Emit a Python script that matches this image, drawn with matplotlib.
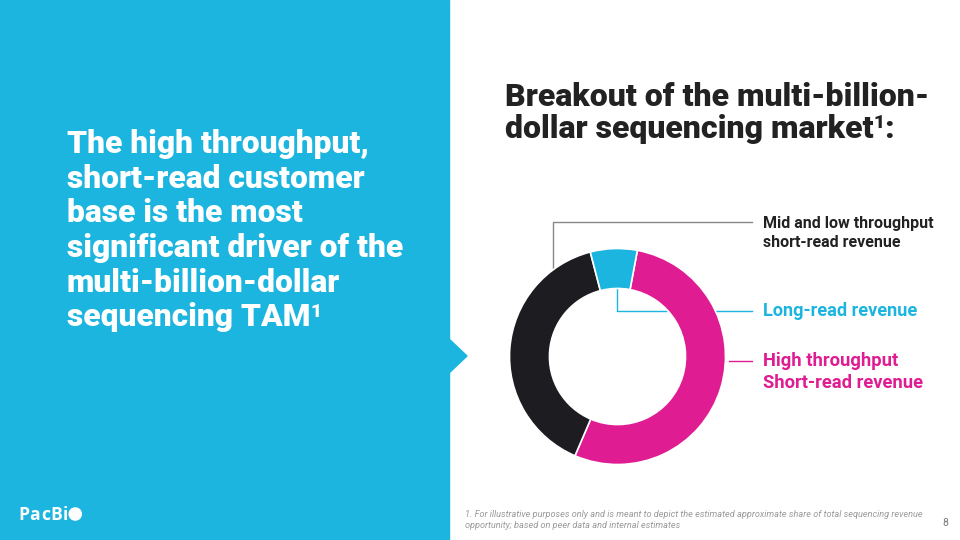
import matplotlib
matplotlib.use("Agg")
import matplotlib.pyplot as plt
from matplotlib.patches import Rectangle, Polygon, Circle

# ---- data ----
segments = ["High throughput\nShort-read revenue", "Mid and low throughput\nshort-read revenue", "Long-read revenue"]
shares = [53.5, 39.5, 7.0]
seg_colors = ["#E01C93", "#1C1C21", "#1BB5DF"]

title_lines = ["Breakout of the multi-billion-", "dollar sequencing market"]
title_sup = "1"
title_tail = ":"
left_lines = ["The high throughput,", "short-read customer", "base is the most",
              "significant driver of the", "multi-billion-dollar", "sequencing TAM"]
left_sup = "1"
footnote_lines = ["1. For illustrative purposes only and is meant to depict the estimated approximate share of total sequencing revenue",
                  "opportunity; based on peer data and internal estimates"]
logo_text = "PacBi"

CYAN = "#1BB5DF"
W, H = 960, 540
fig = plt.figure(figsize=(9.6, 5.4), dpi=100)
ax = fig.add_axes([0, 0, 1, 1])
ax.set_xlim(0, W)
ax.set_ylim(H, 0)
ax.axis("off")
renderer = fig.canvas.get_renderer()


def right_edge(t):
    bb = t.get_window_extent(renderer=renderer)
    return bb.x1  # pixels; x pixel == data x here


# left panel + arrow
ax.add_patch(Rectangle((0, 0), 449, H, color=CYAN, zorder=0))
ax.add_patch(Polygon([(448, 338), (467, 356), (448, 374)], closed=True, color=CYAN, zorder=0))

# left text
LFS = 22.9
LB0, LSP = 153.3, 34.6
for i, line in enumerate(left_lines):
    t = ax.text(67, LB0 + i * LSP, line, color="white", fontsize=LFS, fontweight=900,
                family="Roboto", va="baseline", ha="left")
x1 = right_edge(t)
ax.text(x1 + 0.3, LB0 + 5 * LSP - 9.0, left_sup, color="white", fontsize=LFS * 0.6, fontweight=900,
        family="Roboto", va="baseline", ha="left")

# title
TFS = 23
for i, line in enumerate(title_lines):
    t = ax.text(505, 106 + i * 32.3, line, color="#222222", fontsize=TFS, fontweight=900,
                family="Roboto", va="baseline", ha="left")
x1 = right_edge(t)
s = ax.text(x1 + 0.3, 106 + 32.3 - 10, title_sup, color="#222222", fontsize=TFS * 0.6, fontweight=900,
            family="Roboto", va="baseline", ha="left")
x2 = right_edge(s)
ax.text(x2 - 0.5, 106 + 32.3, title_tail, color="#222222", fontsize=TFS, fontweight=900,
        family="Roboto", va="baseline", ha="left")

# logo (slightly letter-spaced)
x = 18
for ch in logo_text:
    t = ax.text(x, 519.5, ch, color="white", fontsize=12.6, fontweight="bold",
                family="Open Sans", va="baseline", ha="left")
    x = right_edge(t) + 0.6
ax.add_patch(Circle((x + 6.5, 514), 6.1, color="white"))

# footnote + page number
for i, line in enumerate(footnote_lines):
    ax.text(465, 517 + i * 10.5, line, color="#9a9a9a", fontsize=6.6, style="italic",
            family="Roboto", va="baseline", ha="left")
ax.text(942, 526, "8", color="#777777", fontsize=7.5, family="Roboto", va="baseline", ha="left")

# donut
cx, cy, R = 617.5, 356.5, 108
pax = fig.add_axes([(cx - 125) / W, (H - cy - 125) / H, 250 / W, 250 / H])
pax.set_xlim(-1.25, 1.25)
pax.set_ylim(-1.25, 1.25)
pax.axis("off")
pax.patch.set_alpha(0)
pax.pie(shares, colors=seg_colors, startangle=79.4, counterclock=False, radius=R / 100,
        wedgeprops=dict(width=0.37 * R / 100, edgecolor="white", linewidth=1.2))

# leader lines (main axes, behind the donut axes)
ax.plot([553, 553, 752], [268, 222, 222], color="#888888", lw=1.0, zorder=1)
ax.plot([617, 617, 752], [289, 311, 311], color=CYAN, lw=1.0, zorder=1)
ax.plot([729, 752], [361, 361], color=seg_colors[0], lw=1.0, zorder=1)

# segment labels
mid_lbl = segments[1].split("\n")
long_lbl = segments[2]
high_lbl = segments[0].split("\n")
ax.text(763, 228, mid_lbl[0], color="#222222", fontsize=11.5, fontweight="bold",
        family="Roboto", va="baseline")
ax.text(763, 247, mid_lbl[1], color="#222222", fontsize=11.5, fontweight="bold",
        family="Roboto", va="baseline")
ax.text(763, 316.5, long_lbl, color=CYAN, fontsize=13.1, fontweight="bold",
        family="Roboto", va="baseline")
ax.text(763, 366.5, high_lbl[0], color=seg_colors[0], fontsize=13.2, fontweight="bold",
        family="Roboto", va="baseline")
ax.text(763, 388.3, high_lbl[1], color=seg_colors[0], fontsize=13.2, fontweight="bold",
        family="Roboto", va="baseline")

fig.savefig("out.png", dpi=100)
